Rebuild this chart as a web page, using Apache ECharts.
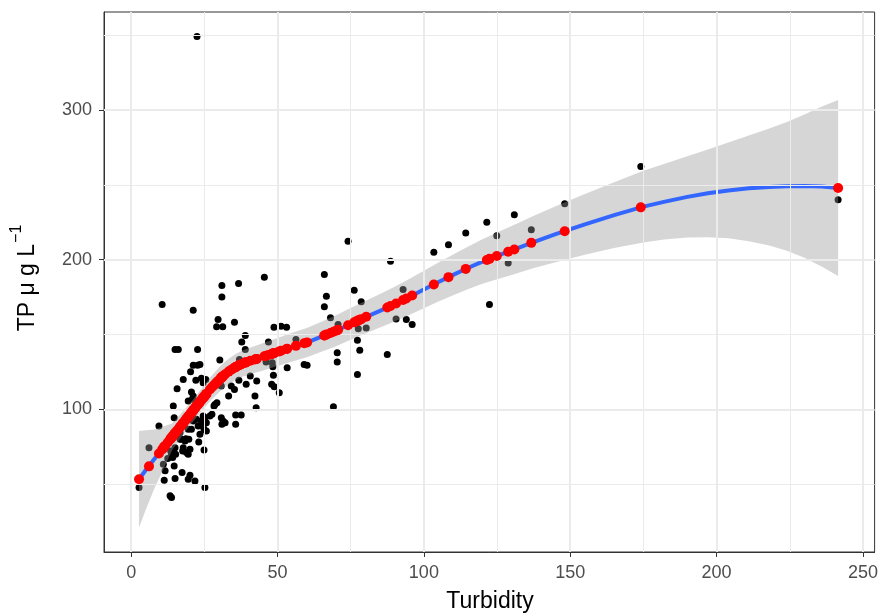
<!DOCTYPE html>
<html>
<head>
<meta charset="utf-8">
<script src="https://cdn.jsdelivr.net/npm/echarts@6/dist/echarts.min.js"></script>
<style>
  html, body { margin: 0; padding: 0; background: #ffffff; }
  #chart { width: 881px; height: 616px; }
</style>
</head>
<body>
<div id="chart"></div>
<script>
// Observed samples: turbidity vs total phosphorus
const turbidity = [
  2.7, 6.1, 9.5, 10.6, 11.0, 11.6, 11.3, 12.5, 13.3, 13.8, 14.4, 14.7, 14.7, 15.0, 15.0, 16.1, 15.2, 15.7, 16.7, 17.2,
  17.4, 17.8, 17.8, 18.7, 18.9, 19.5, 19.5, 19.7, 20.1, 20.3, 20.6, 21.2, 21.2, 21.2, 21.8, 21.8, 22.1, 22.7, 22.7, 22.9,
  23.1, 24.0, 24.0, 24.9, 24.9, 25.2, 25.2, 27.6, 28.3, 28.6, 29.3, 29.2, 29.7, 30.3, 30.8, 30.8, 31.0, 31.0, 31.0, 31.3,
  33.3, 34.2, 35.3, 35.3, 35.7, 35.7, 36.7, 36.8, 37.0, 37.6, 37.8, 39.0, 39.0, 39.3, 40.7, 42.3, 42.7, 42.9, 45.5, 46.1,
  46.9, 48.0, 48.2, 48.4, 48.6, 48.8, 48.9, 50.6, 51.2, 53.1, 53.3, 56.3,
  13.8, 19.5, 20.1, 16.7, 18.4, 15.0, 17.6, 23.5, 25.7, 24.6, 25.7, 22.3, 24.6, 26.9, 21.2, 19.5, 20.6, 20.9, 24.6, 25.5,
  32.1, 31.4, 13.5, 14.2, 23.5, 59.1, 60.1,
  74.1, 88.6, 66.0, 66.7, 66.0, 76.2, 78.6, 68.1, 70.7, 77.6, 80.3, 77.3, 78.1, 70.4, 70.4, 77.3, 87.5, 69.1, 92.9, 90.5,
  94.0, 96.0,
  103.4, 108.4, 114.3, 121.5, 124.9, 122.4, 128.8, 130.9, 136.7, 148.1, 174.1, 241.5, 22.5
];
const tp = [
  47.8, 74.4, 88.9, 170, 63.3, 58.9, 52.7, 67.1, 42.2, 41.1, 102.2, 94.4, 62.2, 53.8, 140, 140, 70, 113.8, 84.4, 80,
  57.8, 120, 74.4, 80.4, 71.1, 105.5, 53.3, 80, 56, 125.1, 111.6, 108.9, 129.5, 166.2, 93.3, 52.2, 119.5, 129.5, 140, 88.9,
  78.2, 120.7, 92.2, 86.7, 72.9, 94.4, 47.8, 96.7, 102.2, 103.3, 104.4, 155.1, 160, 132.9, 94.4, 115.5, 90, 182.7, 175.1, 155.1,
  108.9, 115.5, 113.3, 158.2, 96.2, 90, 184, 119.5, 133.3, 96.2, 144.9, 149.3, 140, 116.7, 122.2, 108.9, 101.1, 118.9, 188.2, 131.6,
  144.9, 116.7, 131.1, 128.4, 122.7, 154.9, 115.1, 111.1, 155.5, 154.9, 127.8, 146.7,
  70, 70, 73.3, 80, 78.9, 74.4, 72.2, 83.3, 85.6, 88.9, 91.1, 93.3, 95.6, 95.6, 92.2, 86.7, 86.7, 106.7, 117.8, 120,
  91.1, 92.2, 72.2, 67.8, 130, 130, 129.5,
  212.2, 198.9, 190, 175.5, 168.5, 179.5, 171.8, 161.1, 156.7, 153.8, 154.4, 146.2, 139.5, 137.8, 131.6, 123.3, 136.7, 101.8, 180, 160.4,
  160, 156.7,
  204.9, 210, 217.8, 224.9, 216, 170, 197.8, 230, 220, 237.3, 262.2, 240, 349
];
// Smoother prediction at each observed turbidity
const fitted = [
  53.3, 61.9, 70.5, 73.2, 74.2, 75.7, 74.9, 77.9, 79.8, 81.1, 82.5, 83.3, 83.3, 84.0, 84.0, 86.7, 84.5, 85.7, 88.2, 89.4,
  89.9, 90.9, 90.9, 93.1, 93.6, 95.1, 95.1, 95.6, 96.6, 97.1, 97.8, 99.3, 99.3, 99.3, 100.8, 100.8, 101.5, 103.0, 103.0, 103.5,
  103.9, 106.2, 106.2, 108.4, 108.4, 109.1, 109.1, 114.7, 116.1, 116.7, 118.1, 117.9, 118.9, 120.1, 121.0, 121.0, 121.4, 121.4, 121.4, 122.0,
  125.2, 126.4, 127.8, 127.8, 128.2, 128.2, 129.3, 129.4, 129.6, 130.1, 130.3, 131.2, 131.2, 131.4, 132.4, 133.3, 133.6, 133.7, 135.4, 135.8,
  136.3, 137.0, 137.1, 137.3, 137.4, 137.5, 137.6, 138.7, 139.1, 140.3, 140.5, 142.4,
  81.1, 95.1, 96.6, 88.2, 92.4, 84.0, 90.4, 104.9, 110.3, 107.7, 110.3, 102.0, 107.7, 113.3, 99.3, 95.1, 97.8, 98.5, 107.7, 109.9,
  123.4, 122.2, 80.3, 82.0, 104.9, 144.1, 144.7,
  156.2, 169.0, 149.3, 149.9, 149.3, 158.1, 160.2, 151.0, 153.1, 159.3, 161.8, 159.1, 159.8, 152.9, 152.9, 159.1, 168.0, 151.8, 173.0, 170.7,
  174.0, 176.0,
  183.4, 188.3, 193.8, 199.8, 202.4, 200.5, 205.2, 206.8, 211.2, 219.0, 234.9, 247.8, 102.5
];

// Smooth curve with its confidence band
const curveX = [2.7, 5, 8, 11, 14, 17, 20, 23, 26, 27.5, 29, 30.5, 32, 33.5, 35, 36.5, 38, 40, 42, 44,
  46, 48, 50, 55, 60, 65, 70, 75, 80, 85, 90, 95, 100, 105, 110, 115, 120, 125, 130, 137,
  145, 155, 165, 175, 182, 190, 197, 204, 211, 218, 224, 230, 236, 241.5];
const curveFit = [53.3, 59.5, 67, 74.2, 81.6, 89, 96.3, 103.7, 111, 114.5, 117.6, 120.6, 123.3, 125.5, 127.5, 129.1, 130.5, 131.9, 133.2, 134.4,
  135.7, 137, 138.3, 141.6, 144.6, 148.5, 152.5, 157, 161.5, 165.8, 170.2, 175, 180, 185, 189.8, 194.4, 198.7, 202.5, 206.1, 211.4,
  217, 223.6, 229.7, 235.4, 238.6, 241.9, 244.3, 246.2, 247.6, 248.5, 249, 249.1, 248.8, 247.8];
const curveLower = [21, 33, 47.5, 60, 72.6, 81, 88.8, 96.2, 103.3, 106.5, 109.4, 112.2, 114.8, 117, 118.9, 120.4, 121.7, 123, 124.2, 125.3,
  126.5, 127.7, 128.9, 132, 134.8, 138.5, 142.2, 146.4, 150.6, 154.6, 158.6, 163, 167.5, 172, 176.2, 180.2, 183.8, 186.9, 189.8, 194,
  198.3, 203.3, 207.7, 211.5, 213.4, 214.8, 215, 214.2, 212.3, 209.4, 206, 201.2, 195.3, 189];
const curveUpper = [85.6, 86, 86.5, 88.5, 90.6, 97, 103.8, 111.2, 118.7, 122.5, 125.8, 129, 131.8, 134, 136.1, 137.8, 139.3, 140.8, 142.2, 143.5,
  144.9, 146.3, 147.7, 151.2, 154.4, 158.5, 162.8, 167.6, 172.4, 177, 181.8, 187, 192.5, 198, 203.4, 208.6, 213.6, 218.1, 222.4, 228.8,
  235.7, 243.9, 251.7, 259.3, 263.8, 269, 273.6, 278.2, 282.9, 287.6, 292, 297, 302.3, 306.6];

// Axis breaks
const xMajor = [0, 50, 100, 150, 200, 250];
const xMinor = [25, 75, 125, 175, 225];
const yMajor = [100, 200, 300];
const yMinor = [50, 150, 250, 350];

const FONT = '"Liberation Sans", Arial, Helvetica, sans-serif';
const chart = echarts.init(document.getElementById('chart'), null, { renderer: 'canvas' });

const gridLines = [];
xMinor.forEach(v => gridLines.push({ xAxis: v, lineStyle: { width: 1 } }));
yMinor.forEach(v => gridLines.push({ yAxis: v, lineStyle: { width: 1 } }));
xMajor.forEach(v => gridLines.push({ xAxis: v, lineStyle: { width: 2 } }));
yMajor.forEach(v => gridLines.push({ yAxis: v, lineStyle: { width: 2 } }));

// width of the y title pieces, to place the superscript right after the main text
const measure = document.createElement('canvas').getContext('2d');
function textWidth(str, size) { measure.font = size + 'px ' + FONT; return measure.measureText(str).width; }
const titleMain = 'TP \u03bc g L';
const titleSup = '\u22121';
const wMain = textWidth(titleMain, 23);
const wSup = textWidth(titleSup, 16);
const wTotal = wMain + 1 + wSup;

const option = {
  animation: false,
  backgroundColor: '#ffffff',
  grid: {
    left: 104, right: 5, top: 12, bottom: 64,
    show: true, backgroundColor: '#ffffff', borderColor: '#333333', borderWidth: 1
  },
  xAxis: {
    type: 'value', min: -9.27, max: 253.97,
    axisLine: { show: true, onZero: false, lineStyle: { color: '#333333', width: 1 } },
    axisTick: { show: true, customValues: xMajor, length: 5, lineStyle: { color: '#333333', width: 1 } },
    axisLabel: { customValues: xMajor, color: '#4d4d4d', fontSize: 18, fontFamily: FONT, margin: 12 },
    splitLine: { show: false }
  },
  yAxis: {
    type: 'value', min: 4.7, max: 365.4,
    axisLine: { show: true, onZero: false, lineStyle: { color: '#333333', width: 1 } },
    axisTick: { show: true, customValues: yMajor, length: 5, lineStyle: { color: '#333333', width: 1 } },
    axisLabel: { customValues: yMajor, color: '#4d4d4d', fontSize: 18, fontFamily: FONT, margin: 12 },
    splitLine: { show: false }
  },
  graphic: [
    {
      type: 'text', x: 490, y: 602,
      style: { text: 'Turbidity', font: '23px ' + FONT, fill: '#000000', textAlign: 'center', textVerticalAlign: 'middle' }
    },
    {
      type: 'group', x: 28, y: 278, rotation: Math.PI / 2,
      children: [
        { type: 'text', x: -wTotal / 2, y: 0,
          style: { text: titleMain, font: '23px ' + FONT, fill: '#000000', textAlign: 'left', textVerticalAlign: 'middle' } },
        { type: 'text', x: -wTotal / 2 + wMain + 1, y: -11,
          style: { text: titleSup, font: '16px ' + FONT, fill: '#000000', textAlign: 'left', textVerticalAlign: 'middle' } }
      ]
    }
  ],
  series: [
    {
      name: 'grid', type: 'line', data: [], z: 1, silent: true,
      markLine: {
        silent: true, symbol: ['none', 'none'], label: { show: false },
        lineStyle: { color: '#ebebeb', type: 'solid' },
        emphasis: { disabled: true },
        data: gridLines
      }
    },
    {
      name: 'observed', type: 'scatter', z: 2, silent: true,
      data: turbidity.map((x, i) => [x, tp[i]]),
      symbol: 'circle', symbolSize: 7,
      itemStyle: { color: '#000000', opacity: 1 }
    },
    {
      name: 'band', type: 'custom', z: 3, silent: true, clip: true,
      data: curveX.map((x, i) => [x, curveLower[i], curveUpper[i]]),
      encode: { x: 0, y: [1, 2] },
      renderItem: function (params, api) {
        if (params.dataIndex !== 0) return null;
        const pts = [];
        for (let i = 0; i < curveX.length; i++) pts.push(api.coord([curveX[i], curveUpper[i]]));
        for (let i = curveX.length - 1; i >= 0; i--) pts.push(api.coord([curveX[i], curveLower[i]]));
        return { type: 'polygon', shape: { points: pts }, style: { fill: 'rgba(153,153,153,0.4)' } };
      }
    },
    {
      name: 'smooth', type: 'line', z: 4, silent: true,
      data: curveX.map((x, i) => [x, curveFit[i]]),
      showSymbol: false, symbol: 'none', smooth: false,
      lineStyle: { color: '#3366FF', width: 4, cap: 'round', join: 'round' }
    },
    {
      name: 'fitted', type: 'scatter', z: 5, silent: true,
      data: turbidity.map((x, i) => [x, fitted[i]]),
      symbol: 'circle', symbolSize: 10,
      itemStyle: { color: '#FF0000', opacity: 1 }
    }
  ]
};
chart.setOption(option);
</script>
</body>
</html>
